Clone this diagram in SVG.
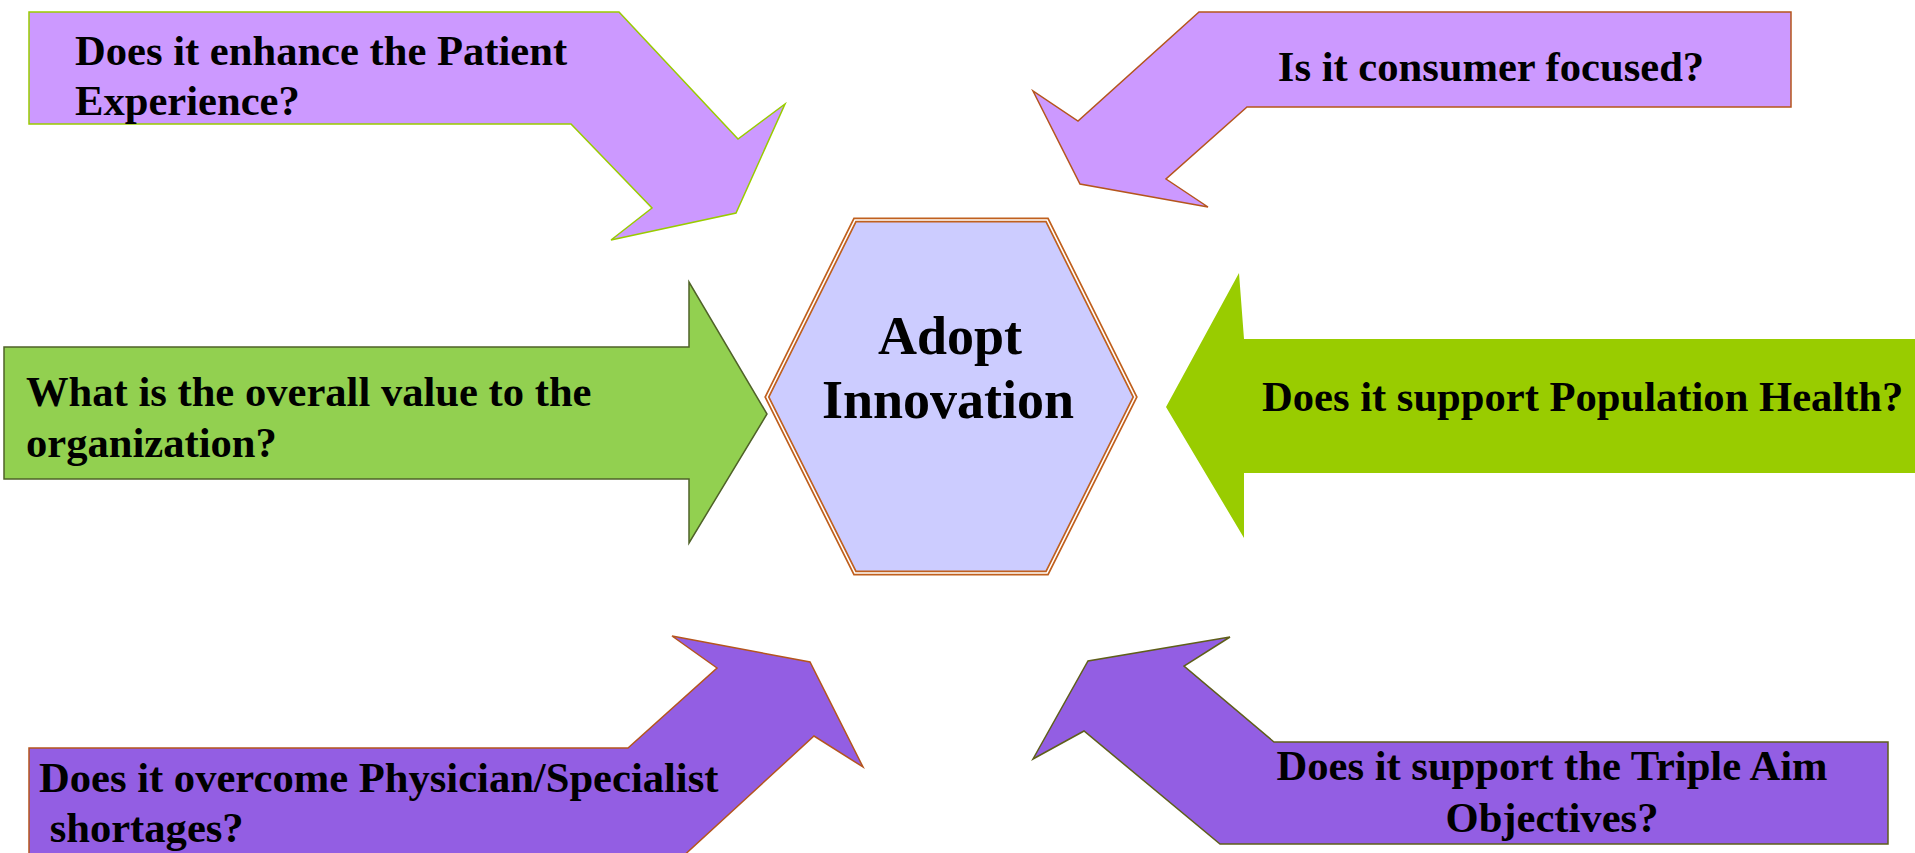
<svg xmlns="http://www.w3.org/2000/svg" width="1915" height="853" viewBox="0 0 1915 853">
  <style>
    .lbl { font-family: "Liberation Serif", "Times New Roman", serif; font-weight: bold; font-size: 42.6px; fill: #000; white-space: pre; }
    .hub { font-family: "Liberation Serif", "Times New Roman", serif; font-weight: bold; font-size: 54px; fill: #000; text-anchor: middle; }
    .lilac { fill: #cc99ff; stroke-width: 1.5; stroke-linejoin: miter; }
    .violet { fill: #935ee3; stroke-width: 1.5; }
  </style>
  <rect width="1915" height="853" fill="#ffffff"/>

  <g id="connectors">
    <!-- top-left bent arrow -->
    <g id="arrow-patient">
      <polygon class="lilac" stroke="#99cc00" points="29,12 619,12 738,139 785,104 736,213 611,240 652,208 571,124 29,124"/>
      <text class="lbl" x="75" y="65">Does it enhance the Patient</text>
      <text class="lbl" x="75" y="115">Experience?</text>
    </g>

    <!-- top-right bent arrow -->
    <g id="arrow-consumer">
      <polygon class="lilac" stroke="#b5551d" points="1199,12 1791,12 1791,107 1247,107 1166,179 1208,207 1080,184 1033,91 1078,121"/>
      <text class="lbl" x="1491" y="81" text-anchor="middle">Is it consumer focused?</text>
    </g>

    <!-- left straight arrow -->
    <g id="arrow-value">
      <polygon fill="#92d050" stroke="#4f6228" stroke-width="1.5" points="4,347 689,347 689,282 767,414 689,543 689,479 4,479"/>
      <text class="lbl" x="26" y="406">What is the overall value to the</text>
      <text class="lbl" x="26" y="457">organization?</text>
    </g>

    <!-- right straight arrow -->
    <g id="arrow-population">
      <polygon fill="#99cc00" points="1166,407 1239,273 1244,339 1920,339 1920,473 1244,473 1244,538"/>
      <text class="lbl" x="1262" y="411">Does it support Population Health?</text>
    </g>

    <!-- bottom-left bent arrow -->
    <g id="arrow-shortages">
      <polygon class="violet" stroke="#b5551d" points="29,748 628,748 717,668 672,636 810,662 863,767 814,736 679,860 29,860"/>
      <text class="lbl" x="39" y="792">Does it overcome Physician/Specialist</text>
      <text class="lbl" x="39" y="842"> shortages?</text>
    </g>

    <!-- bottom-right bent arrow -->
    <g id="arrow-triple-aim">
      <polygon class="violet" stroke="#5f5f1a" points="1274,742 1888,742 1888,844 1220,844 1084,731 1033,759 1088,661 1230,637 1184,666"/>
      <text class="lbl" x="1552" y="780" text-anchor="middle">Does it support the Triple Aim</text>
      <text class="lbl" x="1552" y="832" text-anchor="middle">Objectives?</text>
    </g>
  </g>

  <!-- central hexagon with double outline -->
  <g id="node-adopt">
    <polygon fill="#ccccff" stroke="#c0601e" stroke-width="5" points="767,397 855,220 1047,220 1135,397 1047,573 855,573"/>
    <polygon fill="none" stroke="#ffffff" stroke-width="1.6" points="767,397 855,220 1047,220 1135,397 1047,573 855,573"/>
    <text class="hub" x="950" y="354">Adopt</text>
    <text class="hub" x="948" y="418">Innovation</text>
  </g>
</svg>
